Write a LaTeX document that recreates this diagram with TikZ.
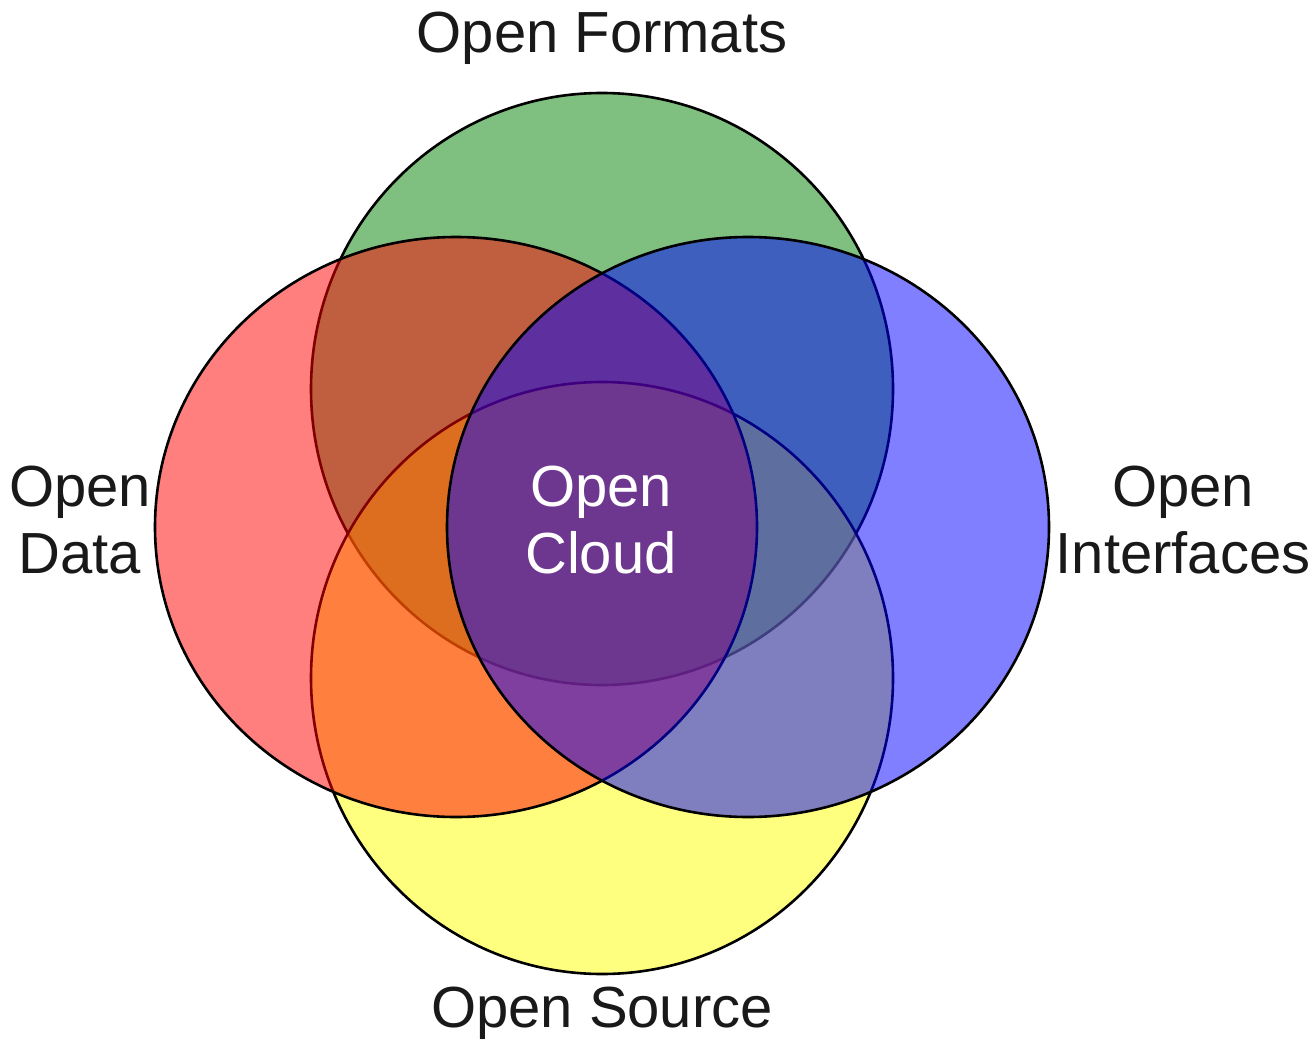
\documentclass[tikz,border=0pt]{standalone}
\usepackage{fontspec}
\setmainfont{Liberation Sans}
\definecolor{cgreen}{RGB}{0,128,0}
\definecolor{cred}{RGB}{255,0,0}
\definecolor{cblue}{RGB}{0,0,255}
\definecolor{cyellow}{RGB}{255,255,0}
\definecolor{labelgray}{RGB}{25,25,25}
\begin{document}
\begin{tikzpicture}[x=1pt,y=-1pt,
  setcircle/.style={draw=black, line width=2.6pt, fill opacity=0.5},
  setlabel/.style={inner sep=0pt, align=center, text=labelgray,
    font=\fontsize{58}{67}\selectfont},
  ]
  \useasboundingbox (0,0) rectangle (1316,1040);
  \path[setcircle, fill=cgreen]  (602,389) ellipse [x radius=291, y radius=296];
  \path[setcircle, fill=cyellow] (602,678) ellipse [x radius=291, y radius=296];
  \path[setcircle, fill=cred]    (456,527) ellipse [x radius=301, y radius=290];
  \path[setcircle, fill=cblue]   (748,527) ellipse [x radius=301, y radius=290];
  \node[setlabel, anchor=base] (formats) at (602,53) {Open Formats};
  \node[setlabel, anchor=base] (source) at (602,1027) {Open Source};
  \node[setlabel, anchor=base] (data) at (80,573) {Open\\Data};
  \node[setlabel, anchor=base] (interfaces) at (1183,573) {Open\\Interfaces};
  \node[setlabel, anchor=base, text=white] (cloud) at (601,573) {Open\\Cloud};
\end{tikzpicture}
\end{document}
